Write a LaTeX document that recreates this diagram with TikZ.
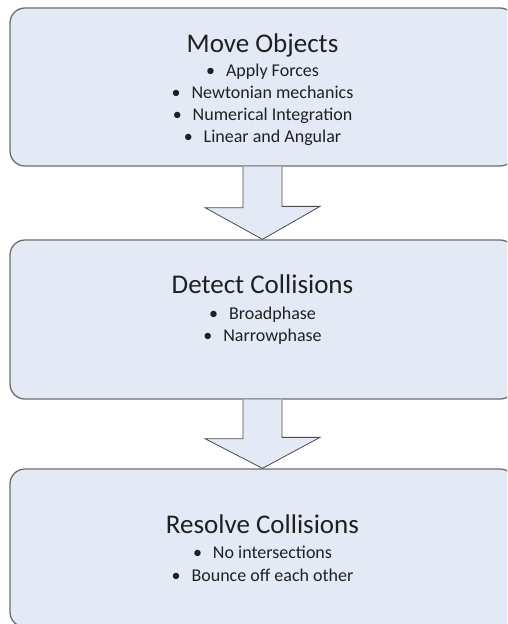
\documentclass[tikz,border=0pt]{standalone}
\usepackage{fontspec}
\setmainfont{Carlito}
\definecolor{boxfill}{HTML}{E4EAF5}
\definecolor{boxline}{HTML}{6E6E6E}
\definecolor{arrline}{HTML}{4A4A4A}
\definecolor{txt}{HTML}{202020}
\newcommand{\bul}[1]{\textbullet\hspace{11pt}#1}
\begin{document}
\begin{tikzpicture}[x=1pt,y=-1pt,
  stage/.style={draw=boxline, line width=1.3pt, fill=boxfill, rounded corners=15pt, inner sep=0pt, minimum width=505pt},
  title/.style={anchor=base, font=\fontsize{27}{32}\selectfont, text=txt, inner sep=0pt},
  item/.style={anchor=base, font=\fontsize{18}{22}\selectfont, text=txt, inner sep=0pt},
  blockarrow/.style={draw=arrline, line width=0.8pt, fill=boxfill, line join=miter}]
\useasboundingbox (0,0) rectangle (507,624);
\clip (0,0) rectangle (507,624);
\fill[white] (0,0) rectangle (507,624);
% boxes
\node[stage, minimum height=158pt] (move) at (262.5,87) {};
\node[stage, minimum height=159pt] (detect) at (262.5,319.5) {};
\node[stage, minimum height=158pt] (resolve) at (262.5,548) {};
% arrows
\fill[boxfill] ([xshift=-19.5pt]move.south) -- ++(0,41) -- ++(-38,0) -- (detect.north) -- ++(57.5,-33) -- ++(-38,0) -- ([xshift=19.5pt]move.south) -- cycle;
\draw[blockarrow, fill=none] ([xshift=-19.5pt]move.south) -- ++(0,41) -- ++(-38,0) -- (detect.north) -- ++(57.5,-33) -- ++(-38,0) -- ([xshift=19.5pt]move.south);
\fill[boxfill] ([xshift=-19.5pt]detect.south) -- ++(0,39) -- ++(-38,0) -- (resolve.north) -- ++(57.5,-31) -- ++(-38,0) -- ([xshift=19.5pt]detect.south) -- cycle;
\draw[blockarrow, fill=none] ([xshift=-19.5pt]detect.south) -- ++(0,39) -- ++(-38,0) -- (resolve.north) -- ++(57.5,-31) -- ++(-38,0) -- ([xshift=19.5pt]detect.south);
% texts
\node[title] (t1) at (262.5,52) {Move Objects};
\node[item] (t1a) at (262.5,76) {\bul{Apply Forces}};
\node[item] (t1b) at (262.5,98) {\bul{Newtonian mechanics}};
\node[item] (t1c) at (262.5,120) {\bul{Numerical Integration}};
\node[item] (t1d) at (262.5,142) {\bul{Linear and Angular}};
\node[title] (t2) at (262.5,293) {Detect Collisions};
\node[item] (t2a) at (262.5,319) {\bul{Broadphase}};
\node[item] (t2b) at (262.5,341) {\bul{Narrowphase}};
\node[title] (t3) at (262.5,533) {Resolve Collisions};
\node[item] (t3a) at (262.5,558) {\bul{No intersections}};
\node[item] (t3b) at (262.5,581) {\bul{Bounce off each other}};
\end{tikzpicture}
\end{document}
